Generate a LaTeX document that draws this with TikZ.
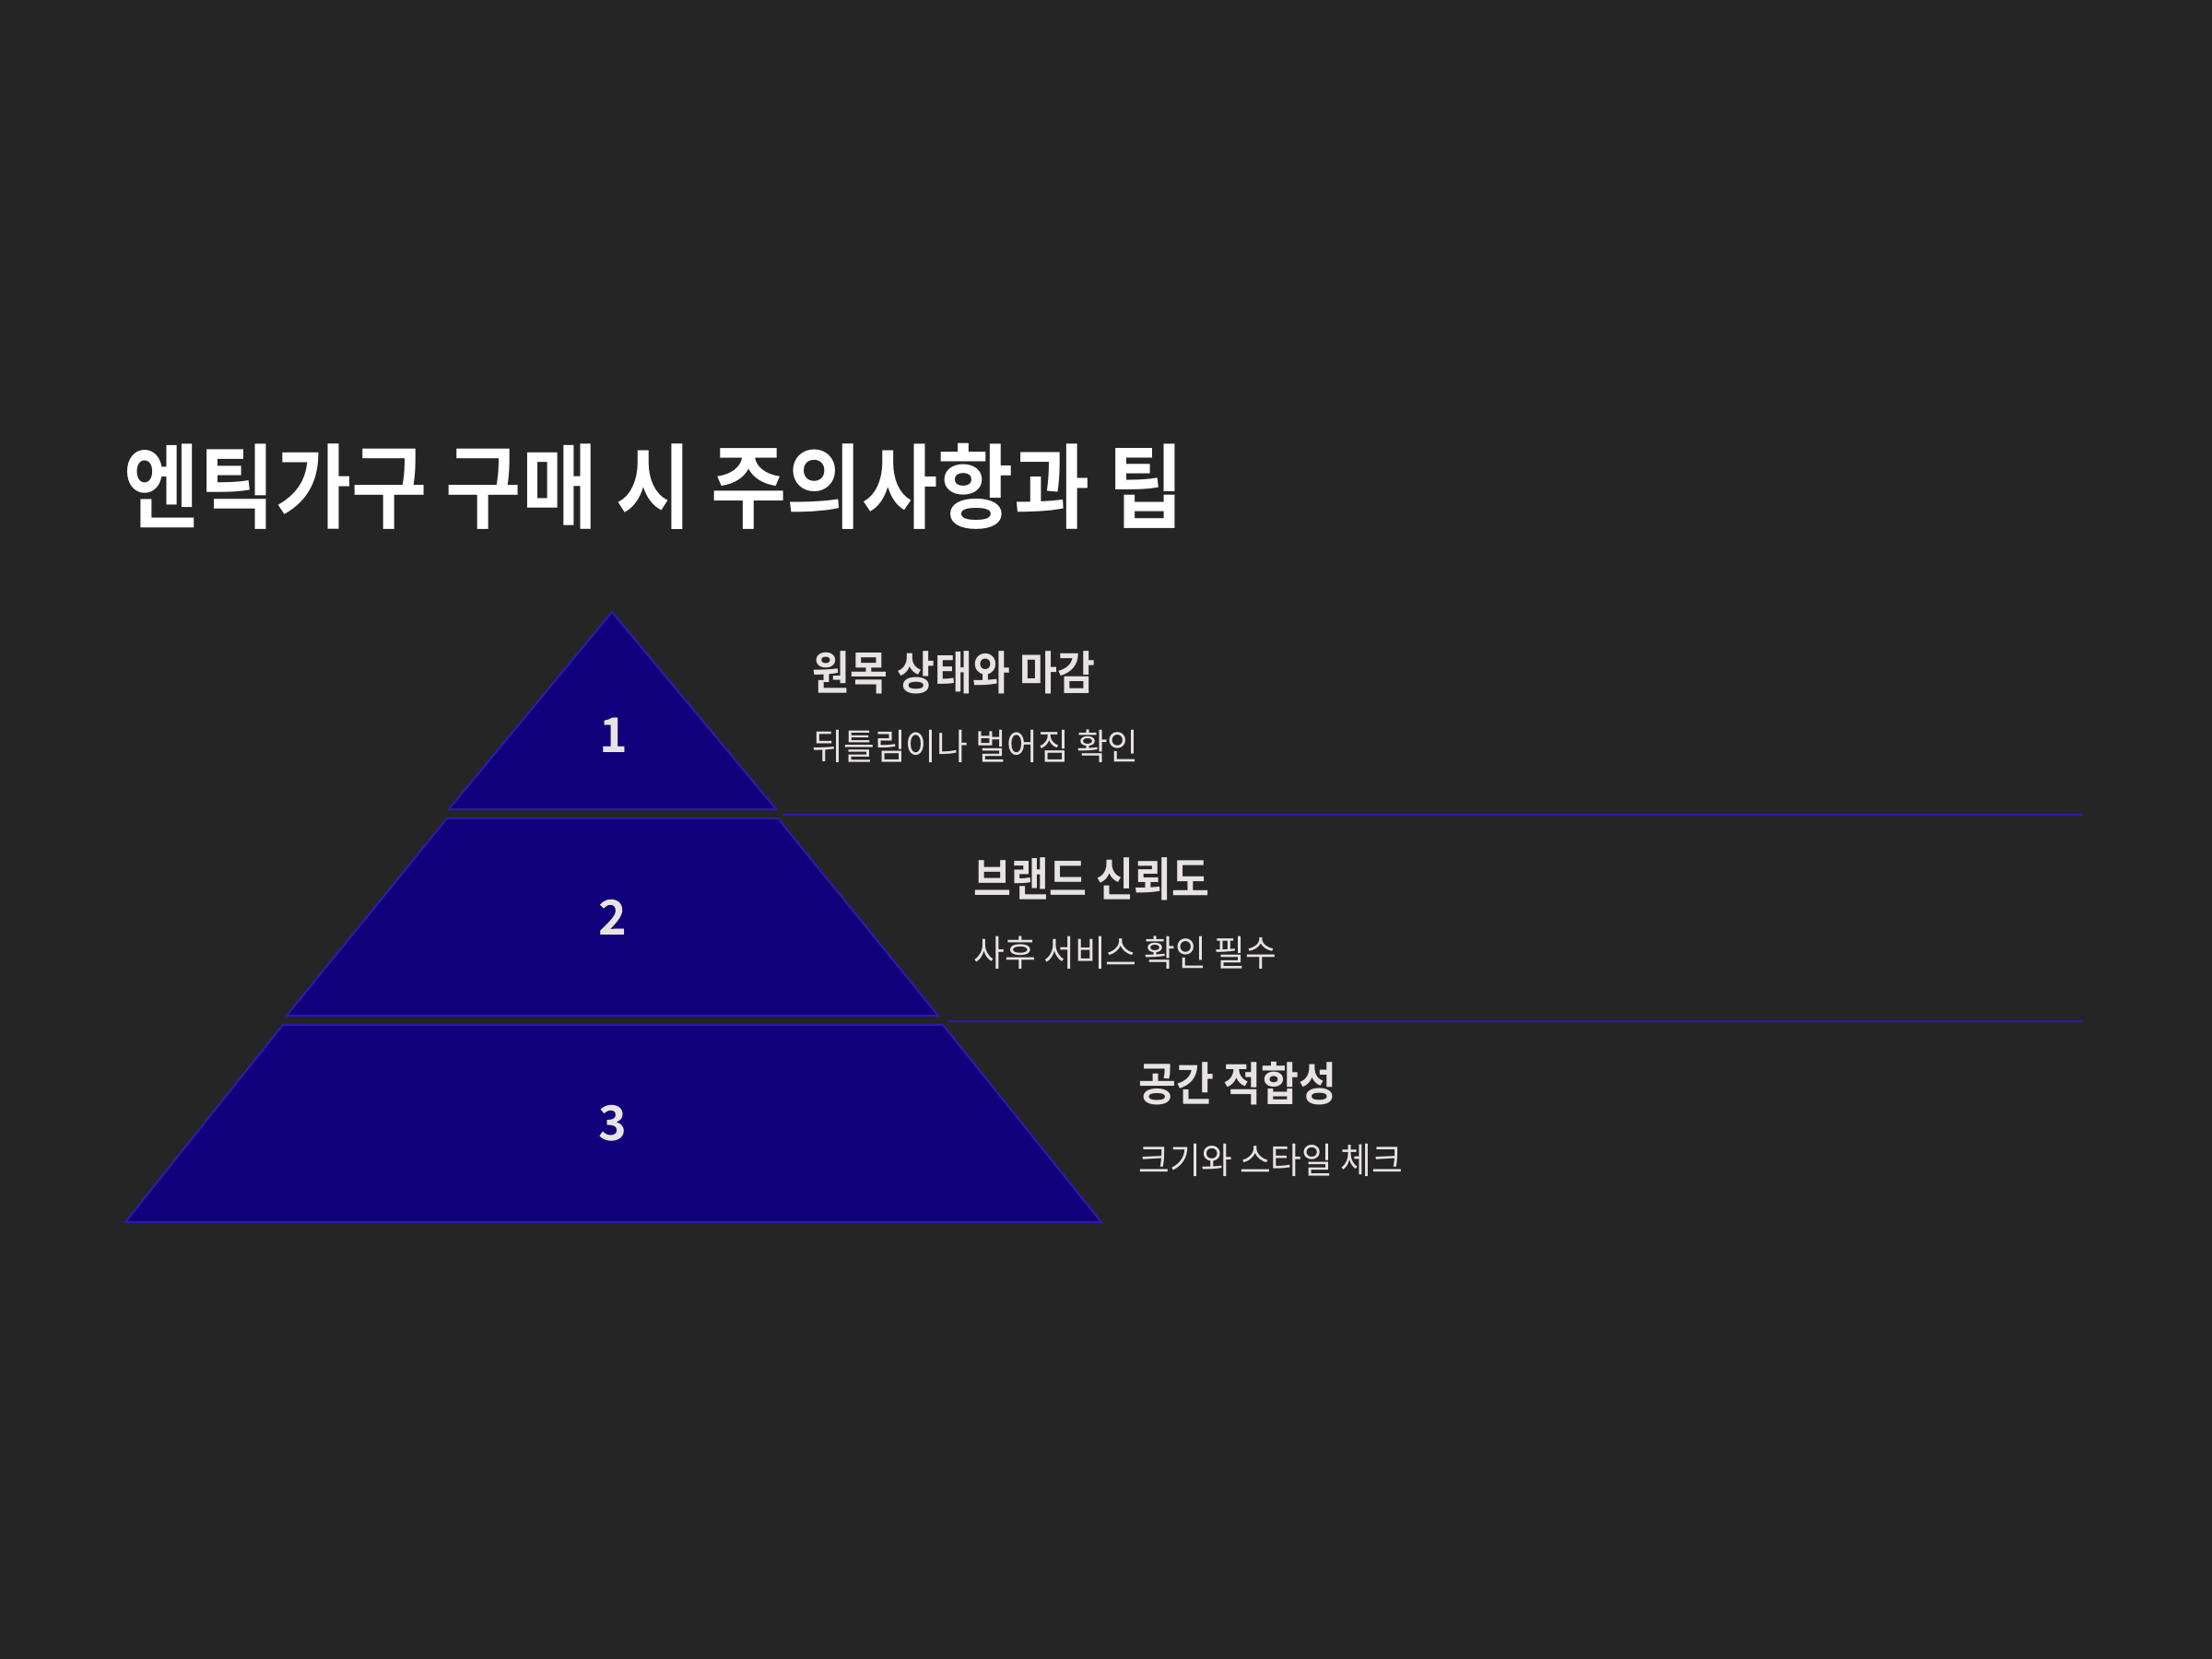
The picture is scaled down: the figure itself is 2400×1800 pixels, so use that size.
\documentclass[tikz,border=0pt]{standalone}
\usepackage{fontspec}
\setmainfont{Noto Sans CJK KR}
\newfontfamily\titlefont[FakeStretch=0.895]{Noto Sans CJK KR Bold}
\newfontfamily\headfont[FakeStretch=0.89]{Noto Sans CJK KR Bold}
\newfontfamily\subfont[FakeStretch=0.94]{Noto Sans CJK KR}
\newfontfamily\numfont{Noto Sans CJK KR Bold}
\definecolor{bg}{HTML}{262526}
\definecolor{tierfill}{HTML}{11007B}
\definecolor{tierline}{HTML}{2B1BA6}
\definecolor{txt}{HTML}{E8E3E3}
\tikzset{
  tier/.style={fill=tierfill, draw=tierline, line width=0.6pt, line join=miter},
  sepline/.style={draw=tierline, line width=0.7pt},
  numlabel/.style={text=txt, inner sep=0pt, font=\numfont\fontsize{14.8pt}{16pt}\selectfont},
  headlabel/.style={text=txt, anchor=west, inner sep=0pt, font=\headfont\fontsize{14.2pt}{16pt}\selectfont},
  sublabel/.style={text=txt, anchor=west, inner sep=0pt, font=\subfont\fontsize{11.1pt}{13pt}\selectfont},
}
\begin{document}
\begin{tikzpicture}[x=0.01cm,y=-0.01cm]
\fill[bg] (0,0) rectangle (2400,1800);
\useasboundingbox (0,0) rectangle (2400,1800);

% title
\node[anchor=west, inner sep=0pt, text=white, font=\titlefont\fontsize{28.4pt}{32pt}\selectfont] (title) at (134,528) {엔틱가구 구매 시 주의사항과 팁};

% pyramid tiers
\draw[tier] (664,664) -- (842,878) -- (487,878) -- cycle;
\draw[tier] (485,888) -- (844,888) -- (1018,1102) -- (311,1102) -- cycle;
\draw[tier] (307,1112) -- (1023,1112) -- (1195,1326) -- (136,1326) -- cycle;

% separator lines
\coordinate (l1a) at (850,884);
\coordinate (l1b) at (2259,884);
\coordinate (l2a) at (1029,1108);
\coordinate (l2b) at (2259,1108);
\draw[sepline] (l1a) -- (l1b);
\draw[sepline] (l2a) -- (l2b);

% numbers
\node[numlabel] (n1) at (666,798) {1};
\node[numlabel] (n2) at (665,995) {2};
\node[numlabel] (n3) at (665,1219) {3};

% labels
\node[headlabel] (h1) at (881,730) {원목 상태와 마감};
\node[sublabel] (s1) at (881,810) {뒤틀림이나 벌어짐 확인};
\node[headlabel] (h2) at (1056,954) {브랜드 신뢰도};
\node[sublabel] (s2) at (1056,1034) {사후 서비스 확인 필수};
\node[headlabel] (h3) at (1235,1176) {공간 적합성};
\node[sublabel] (s3) at (1235,1259) {크기와 스타일 체크};
\end{tikzpicture}
\end{document}
